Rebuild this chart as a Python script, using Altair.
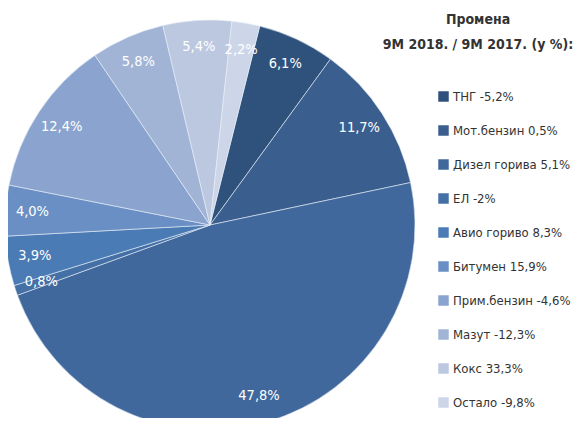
import math
import altair as alt
import pandas as pd

names = ["ТНГ", "Мот.бензин", "Дизел горива", "ЕЛ", "Авио гориво",
         "Битумен", "Прим.бензин", "Мазут", "Кокс", "Остало"]
changes = ["-5,2%", "0,5%", "5,1%", "-2%", "8,3%",
           "15,9%", "-4,6%", "-12,3%", "33,3%", "-9,8%"]
shares = [6.1, 11.7, 47.8, 0.8, 3.9, 4.0, 12.4, 5.8, 5.4, 2.2]
colors = ["#2f527c", "#3a5f8f", "#40689c", "#4470a6", "#4a7bb5",
          "#6a8fc4", "#8aa4cf", "#a1b4d6", "#bcc8e0", "#cdd6e8"]
title_lines = ["Промена", "9M 2018. / 9M 2017. (у %):"]

FONT = "DejaVu Sans Condensed, Liberation Sans Narrow, sans-serif"

df = pd.DataFrame({
    "idx": list(range(len(names))),
    "share": shares,
    "legend": [f"{n} {c}" for n, c in zip(names, changes)],
    "label": [f"{s:.1f}%".replace(".", ",") for s in shares],
})

start = 0.245
theta_scale = alt.Scale(range=[start, start + 2 * math.pi])
cx, cy, R = 202, 217, 205

base = alt.Chart(df).encode(
    theta=alt.Theta("share:Q", stack=True, scale=theta_scale),
    order=alt.Order("idx:Q"),
    x=alt.value(cx),
    y=alt.value(cy),
)

arcs = base.mark_arc(outerRadius=R, stroke="#e8eef6", strokeWidth=0.6).encode(
    color=alt.Color(
        "legend:N",
        sort=df["legend"].tolist(),
        scale=alt.Scale(domain=df["legend"].tolist(), range=colors),
        legend=alt.Legend(
            title=None,
            orient="none",
            legendX=429,
            legendY=82,
            padding=0,
            symbolType="square",
            symbolSize=110,
            symbolStrokeWidth=0,
            labelFont=FONT,
            labelFontSize=13,
            labelColor="#333333",
            rowPadding=20,
            labelOffset=3,
            labelLimit=200,
        ),
    )
)

texts = base.mark_text(radius=178, font=FONT, fontSize=14.5, color="white").encode(
    text="label:N"
)

tdf = pd.DataFrame({"line": title_lines, "row": [0, 1]})
title = alt.Chart(tdf).mark_text(
    font=FONT, fontSize=14, fontWeight="bold", color="#333333", align="center", baseline="middle"
).encode(
    text="line:N",
    x=alt.value(470),
    y=alt.Y("row:Q", axis=None, scale=alt.Scale(domain=[0, 1], range=[12, 37])),
)

chart = alt.layer(arcs, texts, title).properties(
    width=566, height=410, padding=0,
    autosize=alt.AutoSizeParams(type="none"),
).configure_view(stroke=None)

chart.save("out.html", embed_options={"renderer": "svg", "actions": False})
